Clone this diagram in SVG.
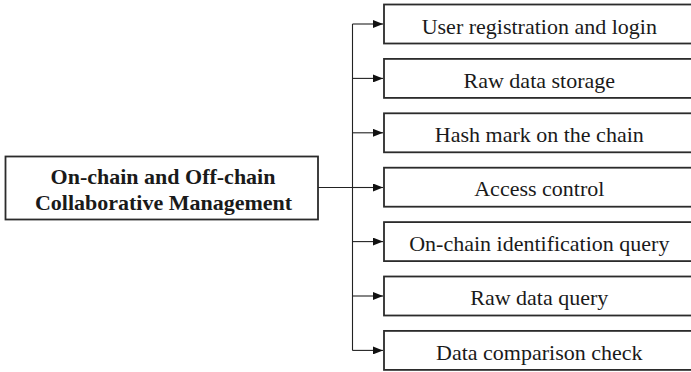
<svg xmlns="http://www.w3.org/2000/svg" width="691" height="372" viewBox="0 0 691 372">
<style>
.box{fill:#fff;stroke:#2b2b2b;stroke-width:1.8}
.t{font-family:"Liberation Serif","Times New Roman",serif;font-size:22px;fill:#1a1a1a;text-anchor:middle}
.b{font-weight:bold}
.c{fill:none;stroke:#222;stroke-width:1.1}
</style>
<defs>
<marker id="ah" markerWidth="10" markerHeight="8" refX="10" refY="4" orient="auto" markerUnits="userSpaceOnUse">
<path d="M0,0 L10,4 L0,8 Z" fill="#111"/>
</marker>
</defs>
<rect width="691" height="372" fill="#fff"/>
<g id="connectors">
<line class="c" x1="318" y1="187.5" x2="352.5" y2="187.5"/>
<line class="c" x1="352.5" y1="24" x2="352.5" y2="350.4"/>
<line class="c" x1="352.5" y1="24" x2="383" y2="24" marker-end="url(#ah)"/>
<line class="c" x1="352.5" y1="78.4" x2="383" y2="78.4" marker-end="url(#ah)"/>
<line class="c" x1="352.5" y1="132.8" x2="383" y2="132.8" marker-end="url(#ah)"/>
<line class="c" x1="352.5" y1="187.5" x2="383" y2="187.5" marker-end="url(#ah)"/>
<line class="c" x1="352.5" y1="241.6" x2="383" y2="241.6" marker-end="url(#ah)"/>
<line class="c" x1="352.5" y1="296" x2="383" y2="296" marker-end="url(#ah)"/>
<line class="c" x1="352.5" y1="350.4" x2="383" y2="350.4" marker-end="url(#ah)"/>
</g>
<g id="main">
<rect class="box" x="5.5" y="156.5" width="312.5" height="63"/>
<text class="t b" x="163" y="183.5">On-chain and Off-chain</text>
<text class="t b" x="163.5" y="209.5">Collaborative Management</text>
</g>
<g id="n1"><rect class="box" x="384" y="4.5" width="310" height="39"/><text class="t" x="539.3" y="33.5">User registration and login</text></g>
<g id="n2"><rect class="box" x="384" y="58.9" width="310" height="39"/><text class="t" x="539.3" y="87.5">Raw data storage</text></g>
<g id="n3"><rect class="box" x="384" y="113.3" width="310" height="39"/><text class="t" x="539.3" y="141.9">Hash mark on the chain</text></g>
<g id="n4"><rect class="box" x="384" y="167.7" width="310" height="39"/><text class="t" x="539.3" y="196.3">Access control</text></g>
<g id="n5"><rect class="box" x="384" y="222.1" width="310" height="39"/><text class="t" x="539.3" y="250.7">On-chain identification query</text></g>
<g id="n6"><rect class="box" x="384" y="276.5" width="310" height="39"/><text class="t" x="539.3" y="305.1">Raw data query</text></g>
<g id="n7"><rect class="box" x="384" y="330.9" width="310" height="39"/><text class="t" x="539.3" y="359.5">Data comparison check</text></g>
</svg>
